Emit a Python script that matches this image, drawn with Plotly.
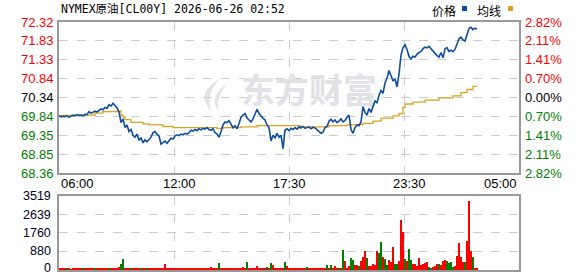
import plotly.graph_objects as go

W, H = 578, 276

title_text = "NYMEX原油[CL00Y] 2026-06-26 02:52"
legend_names = ["价格", "均线"]
time_labels = ["06:00", "12:00", "17:30", "23:30", "05:00"]
time_label_minutes = [0, 360, 690, 1050, 1380]
grid_minutes = [345, 690, 1035]
price_ticks = ["72.32", "71.83", "71.33", "70.84", "70.34", "69.84", "69.35", "68.85", "68.36"]
pct_ticks = ["2.82%", "2.11%", "1.41%", "0.70%", "0.00%", "0.70%", "1.41%", "2.11%", "2.82%"]
vol_ticks = ["3519", "2639", "1760", "880", "0"]
prev_close = 70.34
step_minutes = 6

price = [
    69.86, 69.83, 69.85, 69.84, 69.86, 69.82, 69.85, 69.87, 69.86, 69.89,
    69.87, 69.88, 69.86, 69.90, 69.89, 69.97, 69.93, 69.95, 69.98, 69.96,
    70.01, 70.04, 70.02, 70.08, 70.06, 70.15, 70.12, 70.19, 70.13, 70.07,
    69.96, 69.68, 69.78, 69.55, 69.62, 69.45, 69.50, 69.35, 69.30, 69.38,
    69.22, 69.28, 69.15, 69.23, 69.18, 69.25, 69.30, 69.42, 69.45, 69.38,
    69.33, 69.12, 69.15, 69.20, 69.14, 69.22, 69.27, 69.25, 69.33, 69.36,
    69.34, 69.38, 69.36, 69.40, 69.38, 69.42, 69.48, 69.46, 69.50, 69.47,
    69.52, 69.49, 69.53, 69.51, 69.55, 69.50, 69.48, 69.52, 69.42, 69.38,
    69.30, 69.45, 69.62, 69.70, 69.68, 69.73, 69.62, 69.55, 69.60, 69.52,
    69.65, 69.82, 69.88, 69.92, 69.80, 69.75, 69.70, 69.78, 69.90, 70.03,
    69.92, 69.85, 69.80, 69.75, 69.62, 69.55, 69.20, 69.35, 69.28, 69.40,
    69.30, 69.35, 69.00, 69.48, 69.52, 69.47, 69.53, 69.50, 69.55, 69.51,
    69.57, 69.54, 69.58, 69.53, 69.55, 69.57, 69.52, 69.56, 69.54, 69.50,
    69.45, 69.40, 69.43, 69.55, 69.58, 69.72, 69.77, 69.70, 69.75, 69.68,
    69.72, 69.78, 69.70, 69.74, 69.82, 69.88, 69.50, 69.40, 69.55, 69.62,
    69.60, 69.70, 70.10, 69.95, 69.88, 70.05, 69.95, 70.12, 70.25, 70.20,
    70.40, 70.52, 70.45, 70.72, 70.85, 71.05, 70.90, 70.78, 70.82, 70.62,
    70.95, 71.45, 71.65, 71.72, 71.60, 71.42, 71.35, 71.42, 71.40, 71.48,
    71.52, 71.55, 71.62, 71.66, 71.64, 71.68, 71.62, 71.55, 71.50, 71.44,
    71.40, 71.52, 71.38, 71.62, 71.65, 71.55, 71.58, 71.54, 71.60, 71.75,
    71.88, 71.92, 71.85, 71.82, 72.00, 72.15, 72.18, 72.12, 72.16, 72.13,
]

avg_price = [
    69.86, 69.86, 69.87, 69.87, 69.87, 69.88, 69.88, 69.88, 69.88, 69.88,
    69.88, 69.88, 69.88, 69.88, 69.88, 69.88, 69.88, 69.88, 69.93, 69.93,
    69.93, 69.93, 69.97, 69.97, 69.97, 69.97, 69.97, 69.97, 69.97, 69.98,
    69.99, 69.88, 69.83, 69.76, 69.76, 69.76, 69.69, 69.69, 69.69, 69.69,
    69.69, 69.69, 69.65, 69.65, 69.65, 69.62, 69.62, 69.62, 69.62, 69.62,
    69.62, 69.62, 69.58, 69.58, 69.58, 69.58, 69.58, 69.55, 69.55, 69.55,
    69.55, 69.55, 69.55, 69.55, 69.55, 69.55, 69.55, 69.55, 69.55, 69.55,
    69.55, 69.55, 69.55, 69.55, 69.55, 69.55, 69.55, 69.55, 69.55, 69.53,
    69.53, 69.53, 69.55, 69.55, 69.55, 69.55, 69.55, 69.55, 69.55, 69.55,
    69.55, 69.57, 69.57, 69.57, 69.57, 69.57, 69.57, 69.57, 69.57, 69.60,
    69.60, 69.60, 69.60, 69.60, 69.60, 69.60, 69.60, 69.60, 69.60, 69.60,
    69.60, 69.60, 69.60, 69.60, 69.60, 69.60, 69.60, 69.60, 69.60, 69.60,
    69.60, 69.57, 69.57, 69.57, 69.57, 69.57, 69.57, 69.57, 69.57, 69.57,
    69.57, 69.57, 69.57, 69.57, 69.57, 69.60, 69.60, 69.60, 69.60, 69.60,
    69.60, 69.60, 69.60, 69.60, 69.62, 69.63, 69.63, 69.63, 69.63, 69.63,
    69.63, 69.63, 69.66, 69.66, 69.66, 69.66, 69.66, 69.72, 69.72, 69.72,
    69.72, 69.80, 69.80, 69.80, 69.80, 69.80, 69.80, 69.86, 69.86, 69.86,
    69.92, 69.92, 70.08, 70.17, 70.17, 70.17, 70.17, 70.22, 70.22, 70.22,
    70.22, 70.22, 70.22, 70.27, 70.27, 70.27, 70.27, 70.27, 70.27, 70.27,
    70.33, 70.33, 70.33, 70.33, 70.33, 70.33, 70.33, 70.38, 70.38, 70.38,
    70.38, 70.47, 70.47, 70.47, 70.55, 70.55, 70.55, 70.63, 70.63, 70.63,
]

volume = [
    80, 50, 60, 50, 60, 50, 40, 60, 50, 60,
    50, 60, 50, 60, 50, 60, 70, 50, 60, 50,
    60, 50, 60, 70, 50, 60, 50, 60, 70, 60,
    120, 290, 530, 80, 60, 70, 100, 60, 50, 60,
    60, 90, 60, 60, 90, 60, 60, 60, 110, 60,
    60, 50, 60, 300, 60, 50, 60, 50, 60, 50,
    50, 60, 50, 60, 50, 60, 50, 60, 50, 60,
    60, 50, 60, 50, 60, 50, 150, 60, 50, 60,
    330, 60, 50, 60, 50, 60, 50, 60, 50, 60,
    60, 50, 120, 60, 400, 60, 50, 60, 50, 170,
    60, 50, 60, 60, 150, 60, 350, 250, 60, 50,
    60, 60, 60, 400, 180, 60, 50, 60, 50, 60,
    60, 50, 60, 60, 130, 60, 60, 50, 60, 60,
    60, 100, 60, 60, 240, 60, 240, 60, 190, 60,
    100, 60, 960, 450, 60, 190, 560, 480, 220, 220,
    200, 430, 640, 880, 560, 190, 200, 300, 240, 880,
    800, 1350, 640, 500, 220, 480, 400, 1090, 280, 280,
    430, 2370, 1790, 500, 420, 1010, 480, 280, 280, 200,
    560, 250, 280, 350, 380, 150, 110, 160, 190, 280,
    280, 230, 450, 480, 450, 350, 400, 150, 200, 670,
    1280, 600, 400, 380, 1360, 3290, 910, 640, 100, 80,
]

# r = up (red), g = down (green)
vol_dir = (
    "rrrrgrrrrr" "rrgrrrrrgr" "rrrrrgrrrr" "rggrrrgrrr" "rgrrgrrrrr"
    "rrrrrrrrrr" "rrrrrrrrrr" "rrrrrrrrrr" "grrrrrrrrr" "rrrrgrrrrr"
    "rrrrgrgrrr" "rrrgrrrrrr" "rrrrgrrrrr" "rrrrgrgrrr" "grgrrrggrr"
    "grrrgrrrrr" "ggrggrrrgg" "rrrgrggrrr" "rrrrrggrrr" "grrrggggrr"
    "rrrgrrrgrr"
)

assert len(price) == len(avg_price) == len(volume) == len(vol_dir)

minutes = [i * step_minutes for i in range(len(price))]
x_max = 1380

# pixel layout
L, R = 59, 519
P_TOP, P_BOT = 22, 173
V_TOP, V_BOT = 196, 270
y_lo, y_hi = float(price_ticks[-1]), float(price_ticks[0])
v_hi = float(vol_ticks[0])


def px2x(px):
    return (px - L) / (R - L) * x_max


def px2y(py):
    return y_hi - (py - P_TOP) / (P_BOT - P_TOP) * (y_hi - y_lo)


RED = "#ff0000"
GREEN = "#008000"
BLUE = "#0d4ea2"
ORANGE = "#e0a020"
GRID = "#cccccc"
BORDER = "#999999"

fig = go.Figure()

# watermark text (drawn first so lines sit on top)
fig.add_trace(go.Scatter(
    x=[px2x(309)], y=[px2y(94)], mode="text", text=["东方财富"],
    textfont=dict(size=34, color="#e2e2e6", family="Noto Sans CJK SC", weight="bold"),
    hoverinfo="skip", showlegend=False, xaxis="x", yaxis="y",
))

fig.add_trace(go.Scatter(
    x=minutes, y=avg_price, mode="lines", line=dict(color=ORANGE, width=1.3, shape="hv"),
    showlegend=False, xaxis="x", yaxis="y",
))
fig.add_trace(go.Scatter(
    x=minutes, y=price, mode="lines", line=dict(color=BLUE, width=1.6),
    showlegend=False, xaxis="x", yaxis="y",
))

fig.add_trace(go.Bar(
    x=minutes, y=volume, width=step_minutes * 0.75,
    marker=dict(color=[RED if d == "r" else GREEN for d in vol_dir], line=dict(width=0)),
    showlegend=False, xaxis="x2", yaxis="y2",
))

xd = [L / W, R / W]
fig.update_layout(
    width=W, height=H, margin=dict(l=0, r=0, t=0, b=0),
    paper_bgcolor="white", plot_bgcolor="white", bargap=0,
    xaxis=dict(domain=xd, range=[0, x_max], tickvals=grid_minutes, showticklabels=False,
               showgrid=True, gridcolor=GRID, griddash="dash", gridwidth=1,
               showline=True, mirror=True, linecolor=BORDER, linewidth=1.5,
               zeroline=False, ticks="", fixedrange=True),
    yaxis=dict(domain=[(H - P_BOT) / H, (H - P_TOP) / H], range=[y_lo, y_hi],
               tickvals=[float(t) for t in price_ticks], showticklabels=False,
               showgrid=True, gridcolor=GRID, griddash="dash", gridwidth=1,
               showline=True, mirror=True, linecolor=BORDER, linewidth=1.5,
               zeroline=False, ticks=""),
    xaxis2=dict(domain=xd, anchor="y2", range=[0, x_max], tickvals=grid_minutes,
                showticklabels=False, showgrid=True, gridcolor=GRID, griddash="dash",
                showline=True, mirror=True, linecolor=BORDER, linewidth=1.5,
                zeroline=False, ticks=""),
    yaxis2=dict(domain=[(H - V_BOT) / H, (H - V_TOP) / H], anchor="x2", range=[0, v_hi],
                tickvals=[float(t) for t in vol_ticks], showticklabels=False,
                showgrid=True, gridcolor=GRID, griddash="dash",
                showline=True, mirror=True, linecolor=BORDER, linewidth=1.5,
                zeroline=False, ticks=""),
)

ann = []
FONT = "Liberation Sans, Arial, sans-serif"
for lab, pct in zip(price_ticks, pct_ticks):
    v = float(lab)
    if abs(v - prev_close) < 1e-6:
        col = "#000000"
    elif v > prev_close:
        col = RED
    else:
        col = GREEN
    ann.append(dict(x=(L - 3) / W, xref="paper", y=v, yref="y", text=lab, showarrow=False,
                    xanchor="right", yanchor="middle", font=dict(size=13, color=col, family=FONT)))
    ann.append(dict(x=(R + 4) / W, xref="paper", y=v, yref="y", text=pct, showarrow=False,
                    xanchor="left", yanchor="middle", font=dict(size=13, color=col, family=FONT)))

for lab in vol_ticks:
    v = float(lab)
    ann.append(dict(x=(L - 6) / W, xref="paper", y=v, yref="y2", text=lab, showarrow=False,
                    xanchor="right", yanchor="middle", yshift=(2 if v == 0 else 0),
                    font=dict(size=12.5, color="#000022", family=FONT)))

for i, (lab, m) in enumerate(zip(time_labels, time_label_minutes)):
    xa = "left" if i == 0 else ("right" if i == len(time_labels) - 1 else "center")
    ann.append(dict(x=m, xref="x", y=(H - 183) / H, yref="paper", text=lab, showarrow=False,
                    xanchor=xa, yanchor="middle", font=dict(size=13, color="#000000", family=FONT)))

ann.append(dict(x=L / W, xref="paper", y=(H - 9) / H, yref="paper", text=title_text, showarrow=False,
                xanchor="left", yanchor="middle",
                font=dict(size=11.5, color="#000000", family="DejaVu Sans Mono, Noto Sans CJK SC")))

ann.append(dict(x=430 / W, xref="paper", y=(H - 10) / H, yref="paper", text=legend_names[0], showarrow=False,
                xanchor="left", yanchor="middle", font=dict(size=12, color="#000000", family="Noto Sans CJK SC")))
ann.append(dict(x=475 / W, xref="paper", y=(H - 10) / H, yref="paper", text=legend_names[1], showarrow=False,
                xanchor="left", yanchor="middle", font=dict(size=12, color="#000000", family="Noto Sans CJK SC")))

shapes = [
    dict(type="rect", xref="paper", yref="paper", x0=462 / W, x1=467 / W, y0=(H - 11) / H, y1=(H - 6) / H,
         fillcolor="#0d4ea2", line=dict(width=0)),
    dict(type="rect", xref="paper", yref="paper", x0=508 / W, x1=513 / W, y0=(H - 11) / H, y1=(H - 6) / H,
         fillcolor="#e0a020", line=dict(width=0)),
]


def pth(points):
    s = "M {} {}".format(px2x(points[0][0]), px2y(points[0][1]))
    s += " Q {} {} {} {}".format(px2x(points[1][0]), px2y(points[1][1]), px2x(points[2][0]), px2y(points[2][1]))
    s += " Q {} {} {} {} Z".format(px2x(points[3][0]), px2y(points[3][1]), px2x(points[0][0]), px2y(points[0][1]))
    return s


logo_strokes = [
    [(221, 78), (194, 93), (211, 111), (205, 93)],
    [(228, 83), (207, 97), (219, 111), (215, 97)],
]
for st in logo_strokes:
    shapes.append(dict(type="path", xref="x", yref="y", path=pth(st), fillcolor="#e4e4e8",
                       line=dict(width=0), layer="below"))

fig.update_layout(annotations=ann, shapes=shapes)
fig.write_html("out.html")
